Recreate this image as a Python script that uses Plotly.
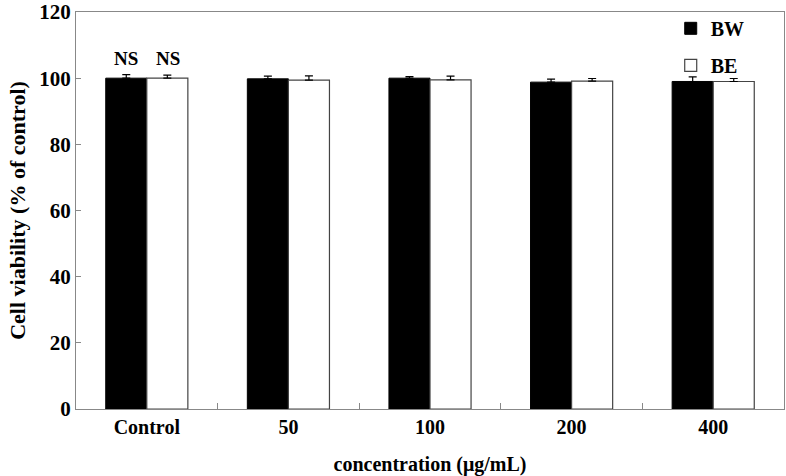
import plotly.graph_objects as go

categories = ["Control", "50", "100", "200", "400"]
bw_values = [100.0, 99.8, 100.0, 98.8, 99.0]
bw_errors = [1.1, 0.8, 0.5, 0.9, 1.4]
be_values = [100.0, 99.4, 99.5, 99.1, 99.0]
be_errors = [0.9, 1.3, 1.1, 0.8, 0.9]
y_ticks = [0, 20, 40, 60, 80, 100, 120]
ns_labels = ["NS", "NS"]

FONT = "Liberation Serif"

fig = go.Figure()
fig.add_trace(go.Bar(
    x=categories, y=bw_values, name="<b>BW</b>",
    marker=dict(color="black", line=dict(color="black", width=1)),
    error_y=dict(type="data", array=bw_errors, arrayminus=[0]*5, symmetric=False,
                 color="black", thickness=1.2, width=4),
    legendgroup="bw",
))
fig.add_trace(go.Bar(
    x=categories, y=be_values, name="<b>BE</b>",
    marker=dict(color="white", line=dict(color="#444", width=1.2)),
    error_y=dict(type="data", array=be_errors, arrayminus=[0]*5, symmetric=False,
                 color="black", thickness=1.2, width=4),
    legendgroup="be",
))

# NS annotations over the control bars
fig.add_annotation(x=0, y=bw_values[0] + bw_errors[0], xshift=-21, yshift=4,
                   text="<b>" + ns_labels[0] + "</b>", showarrow=False,
                   yanchor="bottom", font=dict(family=FONT, size=19, color="black"))
fig.add_annotation(x=0, y=be_values[0] + be_errors[0], xshift=21, yshift=4,
                   text="<b>" + ns_labels[1] + "</b>", showarrow=False,
                   yanchor="bottom", font=dict(family=FONT, size=19, color="black"))

fig.update_layout(
    width=786, height=476,
    margin=dict(l=76, r=2, t=12, b=67),
    paper_bgcolor="white", plot_bgcolor="white",
    barmode="group", bargap=0.42, bargroupgap=0,
    font=dict(family=FONT, color="black"),
    showlegend=True,
    legend=dict(x=0.84, y=1.008, xanchor="left", yanchor="top",
                font=dict(family=FONT, size=20, color="black"),
                bgcolor="rgba(0,0,0,0)", tracegroupgap=8,
                itemwidth=30),
    xaxis=dict(
        range=[-0.5, 4.5], automargin=False,
        showline=True, linecolor="#888", linewidth=1, mirror=True,
        ticks="inside", ticklen=6, tickcolor="#888", tickson="boundaries",
        tickfont=dict(family=FONT, size=20, color="black", weight="bold"),
        title=dict(text="<b>concentration (μg/mL)</b>", standoff=20,
                   font=dict(family=FONT, size=20, color="black")),
        showgrid=False,
    ),
    yaxis=dict(
        range=[0, 120], tickvals=y_ticks, automargin=False,
        showline=True, linecolor="#888", linewidth=1, mirror=True,
        ticks="inside", ticklen=5, tickcolor="#888",
        tickfont=dict(family=FONT, size=21, color="black", weight="bold"),
        title=dict(text="<b>Cell viability (% of control)</b>", standoff=7,
                   font=dict(family=FONT, size=22, color="black")),
        showgrid=False, zeroline=False,
    ),
)

fig.write_html("out.html", config={"displayModeBar": False},
               post_script="document.body.style.margin='0';")
